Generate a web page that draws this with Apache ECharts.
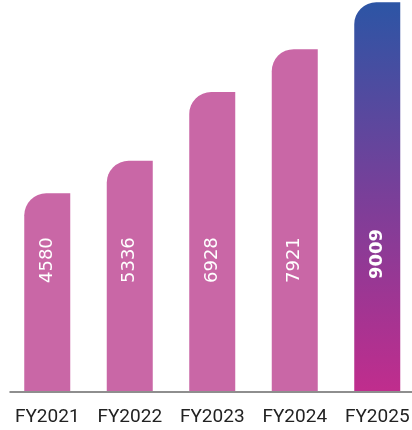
<!DOCTYPE html>
<html>
<head>
<meta charset="utf-8">
<script src="https://cdn.jsdelivr.net/npm/echarts@6/dist/echarts.min.js"></script>
<style>
  html, body { margin: 0; padding: 0; background: #fff; }
  #chart { width: 412px; height: 430px; }
</style>
</head>
<body>
<div id="chart"></div>
<script>
// Revenue by fiscal year
const years = ['FY2021', 'FY2022', 'FY2023', 'FY2024', 'FY2025'];
const revenue = [4580, 5336, 6928, 7921, 9009];

const pink = '#C967A6';
const latestGradient = new echarts.graphic.LinearGradient(0, 0, 0, 1, [
  { offset: 0, color: '#2C55A5' },
  { offset: 0.5, color: '#7A3F99' },
  { offset: 1, color: '#C02D8D' }
]);

const barData = revenue.map((v, i) => {
  const last = i === revenue.length - 1;
  return {
    value: v,
    itemStyle: { color: last ? latestGradient : pink },
    label: last ? { fontWeight: 'bold', distance: 112 } : {}
  };
});

const chart = echarts.init(document.getElementById('chart'), null, { renderer: 'canvas' });
chart.setOption({
  animation: false,
  grid: [
    // bar grid runs slightly past the right edge
    { left: 6, width: 412.5, top: 0, bottom: 39, containLabel: false, outerBoundsMode: 'none' },
    // baseline grid
    { left: 10, right: 0, top: 0, bottom: 38.5, containLabel: false, outerBoundsMode: 'none' }
  ],
  xAxis: [
    {
      type: 'category',
      gridIndex: 0,
      data: years,
      axisLine: { show: false },
      axisTick: { show: false },
      axisLabel: {
        interval: 0,
        color: '#222',
        fontSize: 19,
        fontFamily: 'Roboto',
        margin: 17
      }
    },
    {
      type: 'category',
      gridIndex: 1,
      data: [],
      axisLine: { show: true, lineStyle: { color: '#6a6a6a', width: 1.5 } },
      axisTick: { show: false },
      axisLabel: { show: false }
    }
  ],
  yAxis: [
    { type: 'value', gridIndex: 0, min: 0, max: 9060, show: false },
    { type: 'value', gridIndex: 1, min: 0, max: 1, show: false }
  ],
  series: [{
    type: 'bar',
    xAxisIndex: 0,
    yAxisIndex: 0,
    data: barData,
    barWidth: 46,
    itemStyle: { borderRadius: [22, 0, 0, 0] },
    label: {
      show: true,
      position: 'insideBottom',
      distance: 108,
      rotate: 90,
      align: 'left',
      verticalAlign: 'middle',
      color: '#fff',
      fontSize: 18,
      fontFamily: 'DejaVu Sans'
    }
  }]
});
</script>
</body>
</html>
